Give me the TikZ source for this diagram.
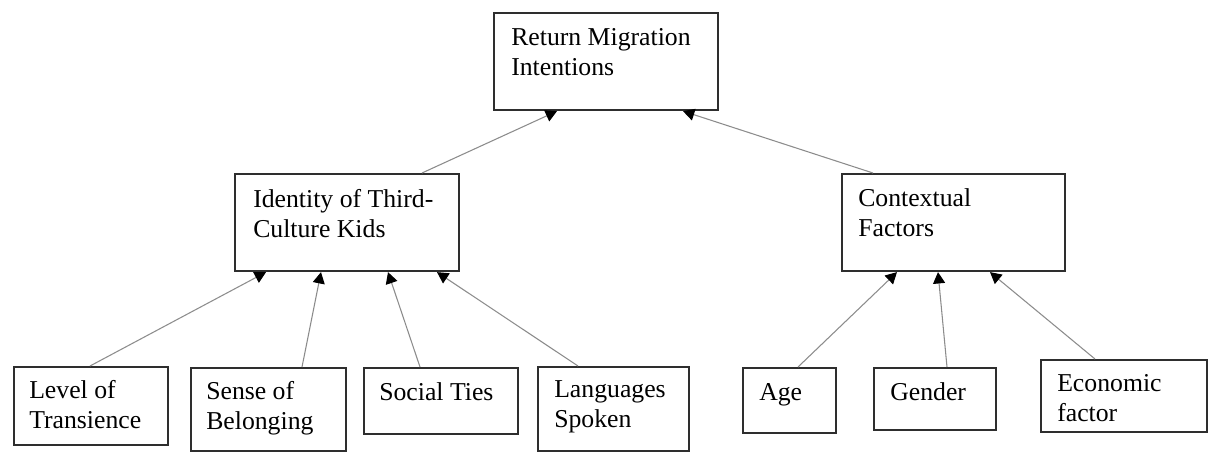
\documentclass[tikz,border=0pt]{standalone}
\usepackage{fontspec}
\setmainfont{Liberation Serif}
\usetikzlibrary{arrows.meta,calc}
\begin{document}
\begin{tikzpicture}[x=0.75pt,y=-0.75pt,
  box/.style={draw=black!82, line width=1.6pt, anchor=north west, inner sep=0pt, fill=white},
  txt/.style={anchor=base west, align=left, inner sep=0pt, font=\fontsize{19.3}{22.5}\selectfont},
  arr/.style={draw=black!45, line width=0.8pt, -{Triangle[length=8.5pt,width=9pt,color=black,fill=black]}}]
\useasboundingbox (0,0) rectangle (1208,451);
% boxes
\node[box, minimum width=168pt, minimum height=72.75pt] (top) at (493,12) {};
\node[box, minimum width=168pt, minimum height=72.75pt] (ident) at (234,173) {};
\node[box, minimum width=167.25pt, minimum height=72.75pt] (ctx) at (841,173) {};
\node[box, minimum width=115.5pt, minimum height=58.5pt] (level) at (13,366) {};
\node[box, minimum width=116.25pt, minimum height=62.25pt] (sense) at (190,367) {};
\node[box, minimum width=115.5pt, minimum height=49.5pt] (social) at (363,367) {};
\node[box, minimum width=113.25pt, minimum height=63pt] (lang) at (537,366) {};
\node[box, minimum width=69.75pt, minimum height=48.75pt] (age) at (742,367) {};
\node[box, minimum width=91.5pt, minimum height=46.5pt] (gender) at (873,367) {};
\node[box, minimum width=124.5pt, minimum height=54pt] (econ) at (1040,359) {};
% texts (anchor = baseline of last line)
\node[txt] (topT) at (511,75) {Return Migration\\Intentions};
\node[txt] (identT) at (253,237) {Identity of Third-\\Culture Kids};
\node[txt] (ctxT) at (858,236) {Contextual\\Factors};
\node[txt] (levelT) at (29,428) {Level of\\Transience};
\node[txt] (senseT) at (206,429) {Sense of\\Belonging};
\node[txt] (socialT) at (379,400) {Social Ties};
\node[txt] (langT) at (554,427) {Languages\\Spoken};
\node[txt] (ageT) at (759,400) {Age};
\node[txt] (genderT) at (890,400) {Gender};
\node[txt] (econT) at (1057,421) {Economic\\factor};
% connectors
\draw[arr] ($(ident.north west)+(188,0)$) -- ($(top.south west)+(64,0)$);
\draw[arr] ($(ctx.north west)+(32,0)$) -- ($(top.south west)+(190,0)$);
\draw[arr] ($(level.north west)+(77,0)$) -- ($(ident.south west)+(32,0)$);
\draw[arr] ($(sense.north west)+(112,0)$) -- ($(ident.south west)+(87,0)$);
\draw[arr] ($(social.north west)+(57,0)$) -- ($(ident.south west)+(154,0)$);
\draw[arr] ($(lang.north west)+(41,0)$) -- ($(ident.south west)+(203,0)$);
\draw[arr] ($(age.north west)+(56,0)$) -- ($(ctx.south west)+(56,0)$);
\draw[arr] ($(gender.north west)+(74,0)$) -- ($(ctx.south west)+(97,0)$);
\draw[arr] ($(econ.north west)+(55,0)$) -- ($(ctx.south west)+(149,0)$);
\end{tikzpicture}
\end{document}
